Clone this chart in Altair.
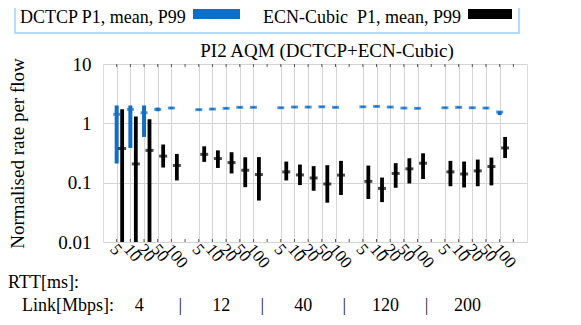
import altair as alt
import pandas as pd

rtt_labels = ["5", "10", "20", "50", "100"]
link_labels = ["4", "12", "40", "120", "200"]
positions = [0, 1, 2, 3, 4, 6, 7, 8, 9, 10, 12, 13, 14, 15, 16,
             18, 19, 20, 21, 22, 24, 25, 26, 27, 28]

dctcp_p1 = [0.21, 0.385, 0.59, 1.60, 1.75, 1.65, 1.69, 1.74, 1.81, 1.81,
            1.78, 1.83, 1.83, 1.85, 1.81, 1.85, 1.88, 1.83, 1.76, 1.74,
            1.78, 1.81, 1.78, 1.76, 1.38]
dctcp_mean = [1.42, 1.72, 1.51, 1.72, 1.81, 1.70, 1.74, 1.79, 1.86, 1.86,
              1.83, 1.88, 1.88, 1.90, 1.86, 1.90, 1.93, 1.88, 1.81, 1.79,
              1.83, 1.86, 1.83, 1.81, 1.55]
dctcp_p99 = [2.0, 2.0, 2.0, 1.84, 1.88, 1.75, 1.79, 1.84, 1.91, 1.91,
             1.88, 1.93, 1.93, 1.95, 1.91, 1.95, 1.98, 1.93, 1.86, 1.84,
             1.88, 1.91, 1.88, 1.86, 1.60]

cubic_p1 = [0.005, 0.005, 0.005, 0.18, 0.109, 0.224, 0.177, 0.143, 0.084, 0.05,
            0.109, 0.091, 0.073, 0.046, 0.062, 0.053, 0.047, 0.082, 0.097, 0.115,
            0.087, 0.083, 0.087, 0.09, 0.26]
cubic_mean = [0.376, 0.207, 0.35, 0.28, 0.195, 0.30, 0.255, 0.218, 0.162, 0.137,
              0.152, 0.135, 0.12, 0.095, 0.134, 0.105, 0.08, 0.143, 0.171, 0.213,
              0.152, 0.14, 0.158, 0.187, 0.385]
cubic_p99 = [1.72, 1.31, 1.17, 0.44, 0.305, 0.41, 0.35, 0.326, 0.268, 0.27,
             0.227, 0.202, 0.19, 0.197, 0.233, 0.194, 0.122, 0.213, 0.258, 0.313,
             0.233, 0.227, 0.245, 0.265, 0.59]

minor_ticks = list(range(0, 30))

BLUE = "#0f6fc6"
FONT = "Times New Roman"
W, H = 424, 178

rtt_all = rtt_labels * 5
dctcp = pd.DataFrame({"x": positions, "p1": dctcp_p1, "mean": dctcp_mean, "p99": dctcp_p99})
cubic = pd.DataFrame({"x": [p + 0.4 for p in positions], "p1": cubic_p1,
                      "mean": cubic_mean, "p99": cubic_p99})

label_expr = "{" + ",".join(f"'{p}':'{l}'" for p, l in zip(positions, rtt_all)) + "}"

xscale = alt.Scale(domain=[-1, 30], nice=False, zero=False)
yscale = alt.Scale(type="log", domain=[0.01, 10], nice=False)

xaxis = alt.Axis(values=positions, labelExpr=f"{label_expr}[''+datum.value]",
                 labelAngle=50, labelAlign="left", labelBaseline="middle",
                 labelFont=FONT, labelFontSize=17, labelColor="black",
                 labelPadding=4, labelOffset=-4, ticks=False, domain=False, grid=True,
                 gridColor="#d4d4d4", title=None, labelOverlap=False, labelBound=False,
                 labelFlush=False)
yaxis = alt.Axis(values=[0.01, 0.1, 1, 10], format="~g", labelFont=FONT, labelFontSize=19,
                 labelColor="black", labelPadding=12, ticks=False, domain=False,
                 grid=True, gridColor="#d4d4d4", title="Normalised rate per flow",
                 titleFont=FONT, titleFontSize=19, titleFontWeight="normal",
                 titleColor="black", titleX=-86, titleY=H / 2, titleAngle=-90,
                 titleAlign="center", titleBaseline="middle", labelOverlap=False)

X = alt.X("x:Q", scale=xscale, axis=xaxis)

base_d = alt.Chart(dctcp)
base_c = alt.Chart(cubic)

d_bar = base_d.mark_rule(color=BLUE, strokeWidth=4).encode(
    x=X, y=alt.Y("p1:Q", scale=yscale, axis=yaxis), y2="p99:Q")
d_mean = base_d.mark_tick(color=BLUE, orient="horizontal", size=7, thickness=3).encode(
    x=X, y=alt.Y("mean:Q", scale=yscale, axis=yaxis))
c_bar = base_c.mark_rule(color="black", strokeWidth=3.8, clip=True).encode(
    x=X, y=alt.Y("p1:Q", scale=yscale, axis=yaxis), y2="p99:Q")
c_mean = base_c.mark_tick(color="black", orient="horizontal", size=8, thickness=3).encode(
    x=X, y=alt.Y("mean:Q", scale=yscale, axis=yaxis))

# small inward ticks along top and bottom frame
mt = pd.DataFrame({"x": minor_ticks})
top_ticks = alt.Chart(mt).mark_rule(color="#555555", strokeWidth=1).encode(
    x=X, y=alt.value(0), y2=alt.value(3))
bot_ticks = alt.Chart(mt).mark_rule(color="#555555", strokeWidth=1).encode(
    x=X, y=alt.value(H - 3), y2=alt.value(H))

one = pd.DataFrame({"a": [0]})

def txt(text, x, y, size=18, align="left"):
    return alt.Chart(one).mark_text(text=text, font=FONT, fontSize=size, align=align,
                                    baseline="alphabetic", color="black").encode(
        x=alt.value(x), y=alt.value(y))

# Title
title_txt = txt("PI2 AQM (DCTCP+ECN-Cubic)", W / 2 + 12, -7, size=19, align="center")

# Legend (drawn manually, labels precede swatches)
leg_box = alt.Chart(one).mark_rect(fill="white", stroke="#9fd2ef", strokeWidth=1.5).encode(
    x=alt.value(-88), x2=alt.value(416), y=alt.value(-62), y2=alt.value(-31))
leg_t1 = txt("DCTCP P1, mean, P99", -83, -41)
leg_s1 = alt.Chart(one).mark_rect(fill=BLUE).encode(
    x=alt.value(90), x2=alt.value(137), y=alt.value(-55), y2=alt.value(-45))
leg_t2 = txt("ECN-Cubic\u00a0\u00a0P1, mean, P99", 160, -41)
leg_s2 = alt.Chart(one).mark_rect(fill="black").encode(
    x=alt.value(365), x2=alt.value(409), y=alt.value(-55), y2=alt.value(-45))

# Bottom annotation
rtt_txt = txt("RTT[ms]:", -95, 224)
link_txt = txt("Link[Mbps]:", -81, 247)
groups = pd.DataFrame({"x": [1.65, 7.65, 13.65, 19.65, 25.65], "t": link_labels})
grp_txt = alt.Chart(groups).mark_text(font=FONT, fontSize=18, align="center",
                                      baseline="alphabetic", color="black").encode(
    x=X, y=alt.value(247), text="t:N")
seps = pd.DataFrame({"x": [4.65, 10.65, 16.65, 22.65], "t": ["|"] * 4})
sep_txt = alt.Chart(seps).mark_text(font=FONT, fontSize=18, align="center",
                                    baseline="alphabetic", color="#222222").encode(
    x=X, y=alt.value(247), text="t:N")

chart = alt.layer(d_bar, d_mean, c_bar, c_mean, top_ticks, bot_ticks, title_txt, leg_box,
                  leg_t1, leg_s1, leg_t2, leg_s2, rtt_txt, link_txt, grp_txt, sep_txt).properties(
    width=W, height=H,
    autosize=alt.AutoSizeParams(type="none"),
    padding={"left": 95, "top": 56, "right": 46, "bottom": 75},
).configure_view(stroke="#404040", strokeWidth=1.5).configure(background="white")

chart.save("out.html", embed_options={"renderer": "svg", "actions": False})
